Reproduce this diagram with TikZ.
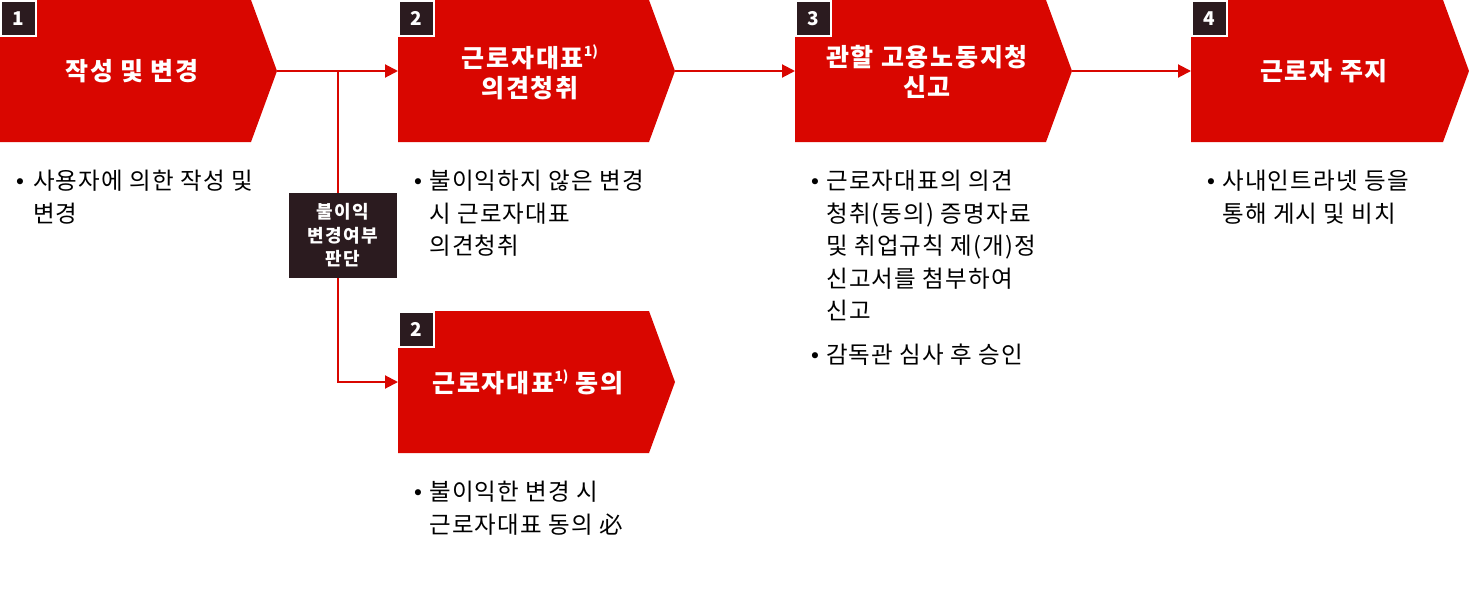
\documentclass[tikz,border=0pt]{standalone}
\usepackage{fontspec}
\setmainfont{Noto Sans CJK KR}
\newfontfamily\dejavu{DejaVu Sans}
\usetikzlibrary{arrows.meta}
\definecolor{cred}{RGB}{217,6,0}
\definecolor{cdark}{RGB}{43,27,31}
\newcommand{\supone}{\raisebox{0.45em}{\fontsize{14}{14}\selectfont\addfontfeatures{LetterSpace=0}1)}}
\begin{document}
\begin{tikzpicture}[x=1pt,y=-1pt,
  chev/.style={fill=cred},
  ttl/.style={text=white,align=center,inner sep=0,font=\fontsize{25}{30}\selectfont\bfseries\addfontfeatures{LetterSpace=7}},
  badge/.style={fill=cdark,draw=white,line width=2.5pt,minimum size=35pt,inner sep=0,text=white,font=\fontsize{19}{19}\selectfont\bfseries},
  judge/.style={fill=cdark,minimum width=108pt,minimum height=85pt,text=white,align=center,inner sep=0,font=\fontsize{18}{23.5}\selectfont\bfseries\addfontfeatures{LetterSpace=9}},
  link/.style={draw=cred,line width=2pt},
  flow/.style={link,-{Triangle[length=13pt,width=13pt]}},
  dot/.style={inner sep=0,anchor=center,font=\dejavu\fontsize{21}{21}\selectfont},
  body/.style={inner sep=0,anchor=base west,font=\fontsize{23.5}{32.5}\selectfont\addfontfeatures{LetterSpace=5}}
]
\useasboundingbox (0,0) rectangle (1469,589);

% chevrons
\fill[chev] (0,0) -- (251,0) -- (277,71) -- (251,142) -- (0,142) -- cycle;
\fill[chev] (398,0) -- (649,0) -- (675,71) -- (649,142) -- (398,142) -- cycle;
\fill[chev] (398,311) -- (649,311) -- (675,382) -- (649,453) -- (398,453) -- cycle;
\fill[chev] (795,0) -- (1046,0) -- (1072,71) -- (1046,142) -- (795,142) -- cycle;
\fill[chev] (1191,0) -- (1443,0) -- (1469,71) -- (1443,142) -- (1191,142) -- cycle;

\coordinate (c1out) at (277,71);
\coordinate (c2in) at (398,71);
\coordinate (c2out) at (675,71);
\coordinate (c2bin) at (398,382);
\coordinate (c3in) at (795,71);
\coordinate (c3out) at (1072,71);
\coordinate (c4in) at (1191,71);
\coordinate (split) at (338,71);

% badges
\node[badge] (b1) at (18.5,18.5) {1};
\node[badge] (b2) at (416.5,18.5) {2};
\node[badge] (b2b) at (416.5,329.5) {2};
\node[badge] (b3) at (813.5,18.5) {3};
\node[badge] (b4) at (1209.5,18.5) {4};

% titles
\node[ttl] (t1) at (132,71) {작성 및 변경};
\node[ttl] (t2) at (530,72) {근로자대표\supone\\의견청취};
\node[ttl] (t2b) at (528,382) {근로자대표\supone{} 동의};
\node[ttl] (t3) at (927,72) {관할 고용노동지청\\신고};
\node[ttl] (t4) at (1324,71) {근로자 주지};

% decision box
\node[judge] (j) at (343,235.5) {불이익\\변경여부\\판단};

% connectors
\draw[flow] (c1out) -- (c2in);
\draw[link] (split) -- (j.north -| split);
\draw[flow] (j.south -| split) |- (c2bin);
\draw[flow] (c2out) -- (c3in);
\draw[flow] (c3out) -- (c4in);

% bullet texts
\node[dot] (d1) at (20,184) {•};
\node[body] (x1) at (33,189.5) {\begin{tabular}[t]{@{}l@{}}사용자에 의한 작성 및\\변경\end{tabular}};

\node[dot] (d2) at (418,184) {•};
\node[body] (x2) at (429,189.5) {\begin{tabular}[t]{@{}l@{}}불이익하지 않은 변경\\시 근로자대표\\의견청취\end{tabular}};

\node[dot] (d2b) at (418,495) {•};
\node[body] (x2b) at (429,500.5) {\begin{tabular}[t]{@{}l@{}}불이익한 변경 시\\근로자대표 동의 必\end{tabular}};

\node[dot] (d3) at (815,184) {•};
\node[body] (x3) at (826,189.5) {\begin{tabular}[t]{@{}l@{}}근로자대표의 의견\\청취(동의) 증명자료\\및 취업규칙 제(개)정\\신고서를 첨부하여\\신고\end{tabular}};
\node[dot] (d3b) at (815,358) {•};
\node[body] (x3b) at (826,363.5) {감독관 심사 후 승인};

\node[dot] (d4) at (1211,184) {•};
\node[body] (x4) at (1222,189.5) {\begin{tabular}[t]{@{}l@{}}사내인트라넷 등을\\통해 게시 및 비치\end{tabular}};
\end{tikzpicture}
\end{document}
